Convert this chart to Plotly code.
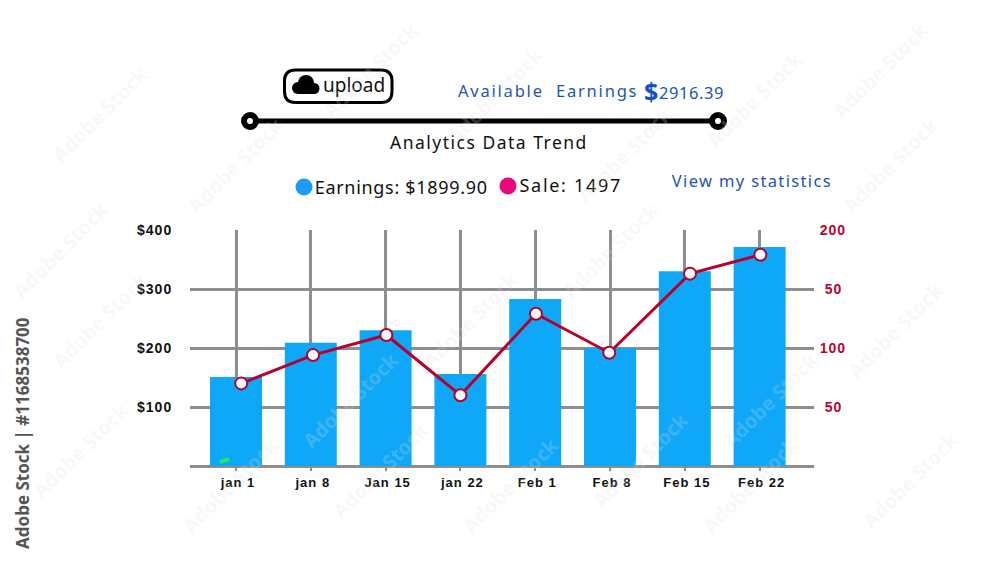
# -*- coding: utf-8 -*-
import plotly.graph_objects as go

W, H = 1000, 562

categories = ['jan 1', 'jan 8', 'Jan 15', 'jan 22', 'Feb 1', 'Feb 8', 'Feb 15', 'Feb 22']
earnings = [151, 209, 230, 156, 283, 200, 330, 371]
sale = [70, 94, 111, 60, 129, 96, 163, 179]
sale_x = [0.07, 1.03, 2.01, 3.0, 4.01, 4.99, 6.07, 7.01]

left_ticks = [100, 200, 300, 400]
left_labels = ['$100', '$200', '$300', '$400']
right_ticks = [50, 100, 150, 200]
right_labels = ['\u00a050', '100', '\u00a050', '200']

watermarks = [(100, 115), (235, 165), (370, 70), (495, 95), (625, 155), (755, 100), (880, 70),
              (890, 165), (60, 250), (610, 250), (470, 320), (350, 400), (230, 485), (895, 330),
              (770, 400), (640, 460), (510, 485), (380, 470), (910, 480), (750, 485), (80, 450),
              (100, 320)]

BLUE = '#0fa8f8'
RED = '#b8002c'
GRID = '#8e8e8e'
LINK = '#2255b5'


def px(x):
    return x / W


def py(y):
    return 1 - y / H


def circle(cx, cy, r, fill, line='rgba(0,0,0,0)', width=0):
    return dict(type='circle', xref='paper', yref='paper',
                x0=px(cx - r), x1=px(cx + r), y0=py(cy + r), y1=py(cy - r),
                fillcolor=fill, line=dict(color=line, width=width), layer='above')


def label(x, y, text, size, color='#111111', family='Noto Sans', anchor='center', angle=0, bold=False):
    return dict(xref='paper', yref='paper', x=px(x), y=py(y), text=text, showarrow=False,
                xanchor=anchor, yanchor='middle', textangle=angle,
                font=dict(family=family, size=size, color=color, weight='bold' if bold else 'normal'))


def rounded_box(x0, y0, x1, y1, r):
    pts = [('M', x0 + r, y0), ('L', x1 - r, y0), ('Q', x1, y0, x1, y0 + r),
           ('L', x1, y1 - r), ('Q', x1, y1, x1 - r, y1), ('L', x0 + r, y1),
           ('Q', x0, y1, x0, y1 - r), ('L', x0, y0 + r), ('Q', x0, y0, x0 + r, y0)]
    path = ''
    for p in pts:
        path += p[0] + ' ' + ' '.join(
            '%.5f,%.5f' % (px(p[i]), py(p[i + 1])) for i in range(1, len(p), 2)) + ' '
    return dict(type='path', xref='paper', yref='paper', path=path + 'Z',
                line=dict(color='black', width=3), fillcolor='white')


fig = go.Figure()
fig.add_trace(go.Bar(x=list(range(len(categories))), y=earnings, width=0.695,
                     marker=dict(color=BLUE, line=dict(width=0)), name='Earnings'))
fig.add_trace(go.Scatter(x=sale_x, y=sale, yaxis='y2', mode='lines+markers', name='Sale',
                         line=dict(color=RED, width=3),
                         marker=dict(size=12, color='white', line=dict(color=RED, width=2)),
                         cliponaxis=False))

shapes = [
    rounded_box(284.5, 70, 392, 102.5, 11),
    circle(298, 88, 6, 'black'), circle(306, 83, 8, 'black'), circle(314, 88.5, 5.5, 'black'),
    dict(type='rect', xref='paper', yref='paper', x0=px(298), x1=px(314), y0=py(94), y1=py(86),
         fillcolor='black', line=dict(width=0), layer='above'),
    dict(type='line', xref='paper', yref='paper', x0=px(250), x1=px(718), y0=py(121), y1=py(121),
         line=dict(color='black', width=5)),
    circle(250, 121, 6, 'white', 'black', 6), circle(718, 121, 6, 'white', 'black', 6),
    circle(304, 187, 8.5, '#1e9bf5'), circle(508, 186, 8.5, '#e8087a'),
    dict(type='line', xref='paper', yref='paper', x0=px(220), x1=px(229), y0=py(462), y1=py(459),
         line=dict(color='#22ee55', width=3.5), layer='above'),
]

annotations = [
    label(354, 85, 'upload', 19),
    label(548, 90, 'Available  Earnings', 16.5, LINK),
    label(651, 91, '$', 25, '#1050c8', bold=True),
    label(691, 93, '2916.39', 16.5, LINK),
    label(489, 142, 'Analytics Data Trend', 17.5),
    label(401, 187, 'Earnings: $1899.90', 18),
    label(570, 185, 'Sale: 1497', 18),
    label(752, 180, 'View my statistics', 16.5, LINK),
    label(22, 433, 'Adobe Stock | #1168538700', 17, '#555555', angle=-90, bold=True),
]

# faint stock watermark
for x, y in watermarks:
    annotations.append(label(x, y, 'Adobe Stock', 20, 'rgba(225,225,225,0.22)', angle=-45, bold=True))

fig.update_layout(
    width=W, height=H, autosize=False,
    margin=dict(l=0, r=0, t=0, b=0, autoexpand=False),
    paper_bgcolor='white', plot_bgcolor='white',
    showlegend=False,
    xaxis=dict(domain=[px(190), px(814)], range=[-0.615, 7.727],
               tickmode='array', tickvals=list(range(len(categories))), ticktext=categories,
               showgrid=True, gridcolor=GRID, gridwidth=2.5, zeroline=False,
               ticks='outside', ticklen=4, tickcolor=GRID, tickwidth=2,
               tickfont=dict(family='Liberation Sans', size=13, color='#111111', weight='bold'),
               ticklabelstandoff=0, ticklabelshift=2),
    yaxis=dict(domain=[py(466), py(230)], range=[0, 400],
               tickmode='array', tickvals=left_ticks, ticktext=left_labels,
               showgrid=True, gridcolor=GRID, gridwidth=3,
               zeroline=True, zerolinecolor=GRID, zerolinewidth=3,
               ticks='outside', ticklen=14, tickcolor='rgba(0,0,0,0)',
               tickfont=dict(family='Liberation Sans', size=14, color='#111111', weight='bold')),
    yaxis2=dict(domain=[py(466), py(230)], range=[0, 200], overlaying='y', side='right',
                tickmode='array', tickvals=right_ticks, ticktext=right_labels,
                showgrid=False, zeroline=False,
                ticks='outside', ticklen=2, tickcolor='rgba(0,0,0,0)',
                tickfont=dict(family='Liberation Sans', size=14, color='#c0002c', weight='bold')),
    shapes=shapes,
    annotations=annotations,
)

# plotly has no letter spacing attribute, the reference text is widely tracked
post = """
document.body.style.margin = '0';
var spacing = {'Available  Earnings': 1.8, 'Available Earnings': 1.8, '2916.39': 0.6,
               'Analytics Data Trend': 1.5, 'Earnings: $1899.90': 0.7, 'Sale: 1497': 1.7,
               'View my statistics': 1.35};
document.querySelectorAll('.annotation-text').forEach(function (t) {
    var s = spacing[t.textContent];
    if (s) { t.style.letterSpacing = s + 'px'; }
});
document.querySelectorAll('.xtick text, .ytick text, .y2tick text').forEach(function (t) {
    t.style.letterSpacing = '1px';
});
"""
fig.write_html('out.html', post_script=post, config={'displayModeBar': False})
